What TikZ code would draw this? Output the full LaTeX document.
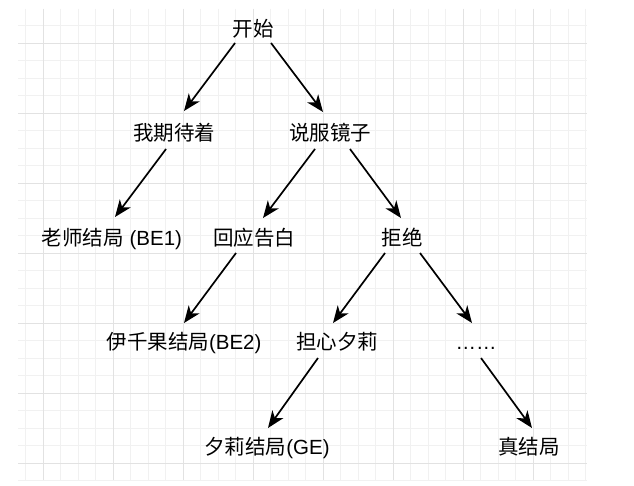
\documentclass[tikz,border=0pt]{standalone}
\usepackage{fontspec}
\newfontfamily\cjk{Noto Sans CJK SC}
\newfontfamily\latf{Liberation Sans}
\usetikzlibrary{arrows.meta,calc}
\newcommand{\lat}[1]{{\latf #1}}
\definecolor{gridminor}{HTML}{F1F1F1}
\definecolor{gridmajor}{HTML}{E2E2E2}
\tikzset{
  lbl/.style={font=\cjk\fontsize{20.5}{24}\selectfont, inner sep=0pt, text height=17.5pt, text depth=2.5pt, anchor=center},
  arr/.style={line width=1.7pt, -{Stealth[length=17pt,width=13.5pt,inset=5pt]}}
}
\begin{document}
\begin{tikzpicture}[x=1pt,y=-1pt]
\useasboundingbox (0,0) rectangle (634,486);
\fill[white] (0,0) rectangle (634,486);
% grid
\begin{scope}
\clip (18,9) rectangle (587,480);
\foreach \i in {0,...,33} {
  \draw[gridminor, line width=0.8pt] (25.5+17.5*\i,9) -- (25.5+17.5*\i,480);
  \draw[gridminor, line width=0.8pt] (18,25.5+17.5*\i) -- (587,25.5+17.5*\i);
}
\foreach \i in {0,...,8} {
  \draw[gridmajor, line width=0.8pt] (43+70*\i,9) -- (43+70*\i,480);
  \draw[gridmajor, line width=0.8pt] (18,43+70*\i) -- (587,43+70*\i);
}
\end{scope}
% nodes
\node[lbl] (n0) at (253,29) {开始};
\node[lbl] (n1) at (174,133) {我期待着};
\node[lbl] (n2) at (330,133) {说服镜子};
\node[lbl] (n3) at (112,238) {老师结局\lat{ (BE1)}};
\node[lbl] (n4) at (254,238) {回应告白};
\node[lbl] (n5) at (402,238) {拒绝};
\node[lbl] (n6) at (184,342) {伊千果结局\lat{(BE2)}};
\node[lbl] (n7) at (337,342) {担心夕莉};
\node[lbl] (n8) at (476,342) {\lat{……}};
\node[lbl] (n9) at (267,447) {夕莉结局\lat{(GE)}};
\node[lbl] (n10) at (529,447) {真结局};
% arrows
\draw[arr] ($(n0)+(-18,14)$) -- ($(n1)+(10,-22)$);
\draw[arr] ($(n0)+(18,14)$) -- ($(n2)+(-7,-21)$);
\draw[arr] ($(n1)+(-8,16)$) -- ($(n3)+(3,-21)$);
\draw[arr] ($(n2)+(-15,16)$) -- ($(n4)+(9,-20)$);
\draw[arr] ($(n2)+(20,16)$) -- ($(n5)+(-1,-20)$);
\draw[arr] ($(n4)+(-18,15)$) -- ($(n6)+(0,-19)$);
\draw[arr] ($(n5)+(-17,15)$) -- ($(n7)+(-4,-19)$);
\draw[arr] ($(n5)+(18,15)$) -- ($(n8)+(-4,-19)$);
\draw[arr] ($(n7)+(-19,16)$) -- ($(n9)+(1,-19)$);
\draw[arr] ($(n8)+(5,16)$) -- ($(n10)+(3,-19)$);
\end{tikzpicture}
\end{document}
